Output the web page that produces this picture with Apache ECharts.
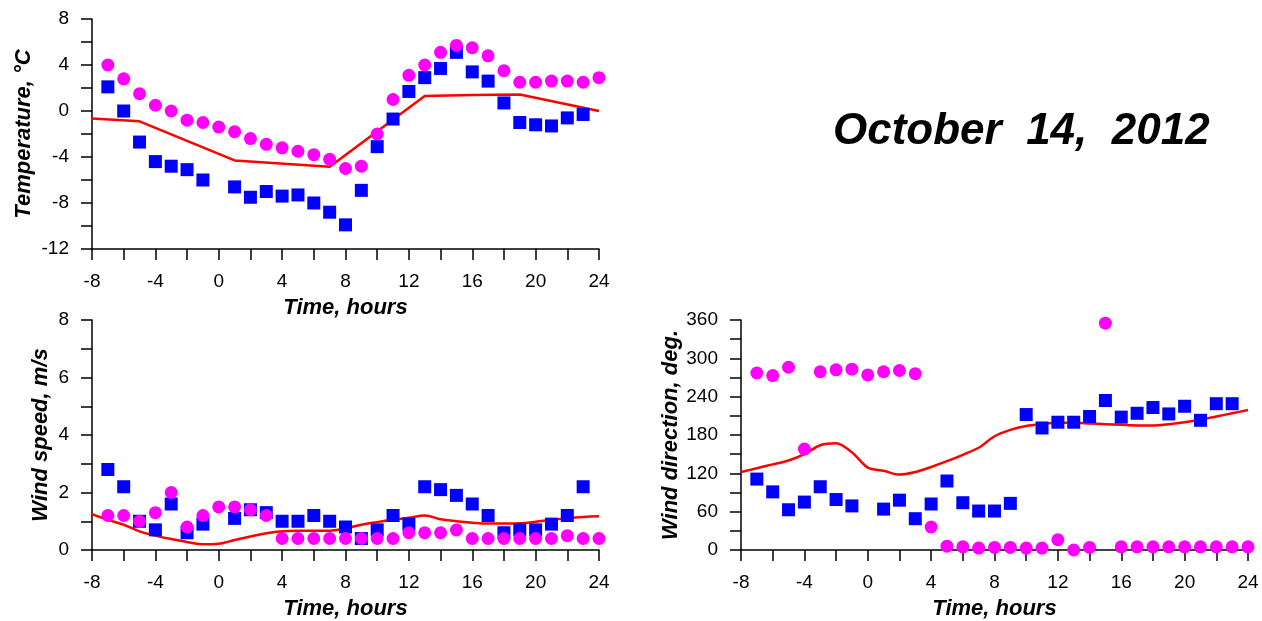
<!DOCTYPE html>
<html>
<head>
<meta charset="utf-8">
<script src="https://cdn.jsdelivr.net/npm/echarts@6/dist/echarts.min.js"></script>
<style>
  html, body { margin: 0; padding: 0; background: #fff; }
  #chart { width: 1262px; height: 621px; }
</style>
</head>
<body>
<div id="chart"></div>
<script>
// hours of the observations (-7 .. 24)
const hours = [-7, -6, -5, -4, -3, -2, -1, 0, 1, 2, 3, 4, 5, 6, 7, 8, 9, 10, 11, 12, 13, 14, 15, 16, 17, 18, 19, 20, 21, 22, 23, 24]
// hours of the model curves (-8 .. 24)
const modelHours = [-8, -7, -6, -5, -4, -3, -2, -1, 0, 1, 2, 3, 4, 5, 6, 7, 8, 9, 10, 11, 12, 13, 14, 15, 16, 17, 18, 19, 20, 21, 22, 23, 24]

const tempBlue = [2.1, 0.0, -2.7, -4.4, -4.8, -5.1, -6.0, null, -6.6, -7.5, -7.0, -7.4, -7.3, -8.0, -8.8, -9.9, -6.9, -3.1, -0.7, 1.7, 2.9, 3.7, 5.1, 3.4, 2.6, 0.7, -1.0, -1.2, -1.3, -0.6, -0.3, null]
const tempPink = [4.0, 2.8, 1.5, 0.5, 0.0, -0.8, -1.0, -1.4, -1.8, -2.4, -2.9, -3.2, -3.5, -3.8, -4.2, -5.0, -4.8, -2.0, 1.0, 3.1, 4.0, 5.1, 5.7, 5.5, 4.8, 3.5, 2.5, 2.5, 2.6, 2.6, 2.5, 2.9]
// temperature curve is a broken line, its knots:
const tempLineHours = [-8, -5, 1, 7, 13, 16, 19, 24]
const tempLine = [-0.66, -0.9, -4.3, -4.85, 1.3, 1.4, 1.44, 0.0]

const speedBlue = [2.8, 2.2, 1.0, 0.7, 1.6, 0.6, 0.9, null, 1.1, 1.4, 1.3, 1.0, 1.0, 1.2, 1.0, 0.8, 0.4, 0.7, 1.2, 0.9, 2.2, 2.1, 1.9, 1.6, 1.2, 0.6, 0.7, 0.7, 0.9, 1.2, 2.2, null]
const speedPink = [1.2, 1.2, 1.0, 1.3, 2.0, 0.8, 1.2, 1.5, 1.5, 1.4, 1.2, 0.4, 0.4, 0.4, 0.4, 0.4, 0.4, 0.4, 0.4, 0.6, 0.6, 0.6, 0.7, 0.4, 0.4, 0.4, 0.4, 0.4, 0.4, 0.5, 0.4, 0.4]
const speedLine = [1.25, 1.05, 0.88, 0.65, 0.5, 0.38, 0.28, 0.2, 0.22, 0.35, 0.47, 0.58, 0.65, 0.67, 0.67, 0.67, 0.75, 0.88, 0.97, 1.05, 1.12, 1.2, 1.07, 1.0, 0.95, 0.92, 0.92, 0.93, 0.98, 1.05, 1.1, 1.15, 1.17]

const dirBlue = [111, 91, 63, 75, 99, 79, 69, null, 64, 78, 49, 72, 108, 74, 61, 61, 73, 212, 191, 200, 200, 209, 234, 208, 214, 223, 213, 225, 203, 229, 229, null]
const dirPink = [277, 273, 286, 158, 279, 282, 283, 274, 279, 281, 276, 36, 6, 5, 3, 4, 4, 3, 3, 16, 0, 4, 355, 5, 5, 5, 5, 5, 5, 5, 5, 5]
const dirLine = [122, 128, 134, 140, 150, 164, 167, 153, 129, 124, 118, 122, 130, 139, 149, 160, 178, 188, 194, 197, 199, 199, 198, 197, 196, 195, 195, 197, 200, 204, 209, 214, 219]

const FONT = '"Liberation Sans", Arial, sans-serif'

const pairs = (xs, ys) => xs.map((x, i) => [x, ys[i]]).filter(p => p[1] !== null)

// labels only on every other tick
const everyOther = (step) => (v) => (Math.round(v / step) % 2 === 0 ? String(v) : '')

const axisLine = { onZero: false, lineStyle: { color: '#000', width: 1.5 } }
const axisTick = { inside: false, length: 11, lineStyle: { color: '#000', width: 1.5 } }
const nameStyle = { fontFamily: FONT, fontSize: 22, fontWeight: 'bold', fontStyle: 'italic', color: '#000' }
const labelStyle = { fontFamily: FONT, fontSize: 19, color: '#000', margin: 23 }

const grids = [
    { left: 92, top: 19, width: 507, height: 230 },
    { left: 92, top: 320, width: 507, height: 231 },
    { left: 741, top: 320, width: 507, height: 232 }
]

const xAxisFor = (gridIndex) => ({
    type: 'value', gridIndex, min: -8, max: 24, interval: 2,
    name: 'Time, hours', nameLocation: 'middle', nameGap: 48, nameTextStyle: nameStyle,
    axisLine, axisTick, splitLine: { show: false },
    axisLabel: { ...labelStyle, margin: 23, formatter: everyOther(2) }
})

const yAxisFor = (gridIndex, min, max, interval, name, nameGap) => ({
    type: 'value', gridIndex, min, max, interval,
    name, nameLocation: 'middle', nameGap, nameTextStyle: nameStyle,
    axisLine, axisTick, splitLine: { show: false },
    axisLabel: { ...labelStyle, formatter: everyOther(interval) }
})

const lineSeries = (i, data) => ({
    type: 'line', xAxisIndex: i, yAxisIndex: i, data, symbol: 'none',
    lineStyle: { color: '#ff0000', width: 2.5 }, z: 2
})
const squareSeries = (i, data) => ({
    type: 'scatter', xAxisIndex: i, yAxisIndex: i, data, symbol: 'rect', symbolSize: 13,
    itemStyle: { color: '#0000ff', opacity: 1 }, z: 3
})
const dotSeries = (i, data) => ({
    type: 'scatter', xAxisIndex: i, yAxisIndex: i, data, symbol: 'circle', symbolSize: 13,
    itemStyle: { color: '#ff00ff', opacity: 1 }, z: 4
})

const chart = echarts.init(document.getElementById('chart'))
chart.setOption({
    backgroundColor: '#fff',
    animation: false,
    grid: grids,
    xAxis: [xAxisFor(0), xAxisFor(1), xAxisFor(2)],
    yAxis: [
        yAxisFor(0, -12, 8, 2, 'Temperature, °C', 57),
        yAxisFor(1, 0, 8, 1, 'Wind speed, m/s', 40),
        yAxisFor(2, 0, 360, 30, 'Wind direction, deg.', 59)
    ],
    graphic: [{
        type: 'text', left: 833, top: 110,
        style: {
            text: 'October  14,  2012', fill: '#000',
            fontFamily: FONT, fontSize: 44, fontWeight: 'bold', fontStyle: 'italic'
        }
    }],
    series: [
        lineSeries(0, pairs(tempLineHours, tempLine)),
        squareSeries(0, pairs(hours, tempBlue)),
        dotSeries(0, pairs(hours, tempPink)),
        { ...lineSeries(1, pairs(modelHours, speedLine)), smooth: 0.4 },
        squareSeries(1, pairs(hours, speedBlue)),
        dotSeries(1, pairs(hours, speedPink)),
        { ...lineSeries(2, pairs(modelHours, dirLine)), smooth: 0.3 },
        squareSeries(2, pairs(hours, dirBlue)),
        dotSeries(2, pairs(hours, dirPink))
    ]
})
</script>
</body>
</html>
